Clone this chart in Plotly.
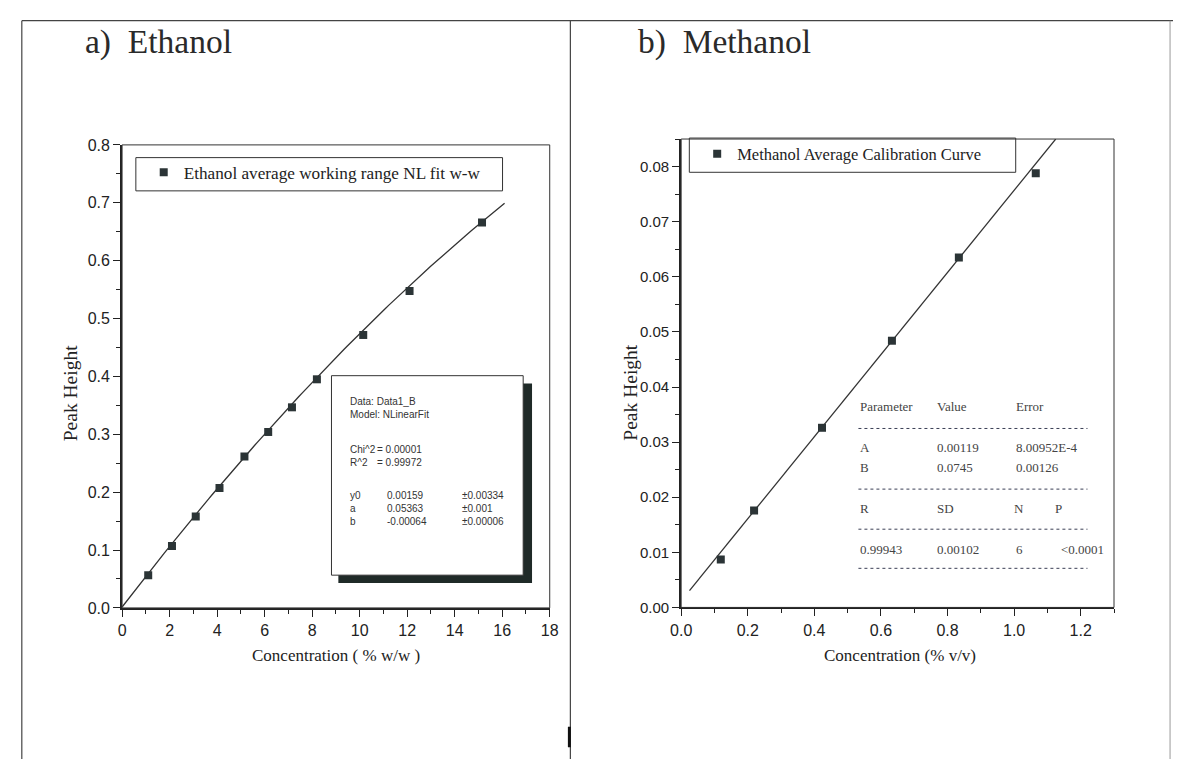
import numpy as np
import plotly.graph_objects as go

# ---- data -------------------------------------------------------------
eth_conc = [1.1, 2.1, 3.1, 4.1, 5.15, 6.15, 7.15, 8.2, 10.15, 12.1, 15.15]
eth_peak = [0.0566, 0.107, 0.158, 0.2074, 0.2615, 0.304, 0.3466, 0.395, 0.4716, 0.5476, 0.666]

meth_conc = [0.119, 0.219, 0.423, 0.633, 0.834, 1.065]
meth_peak = [0.0087, 0.0176, 0.0326, 0.0484, 0.0635, 0.0788]

# fit parameters reported in the result boxes
eth_y0, eth_a, eth_b = 0.00159, 0.05363, -0.00064
meth_A, meth_B = 0.00119, 0.0745

eth_fit_x = np.linspace(0, 16.1, 120)
eth_fit_y = eth_y0 + eth_a * eth_fit_x + eth_b * eth_fit_x ** 2
meth_fit_x = np.array([0.025, (0.085 - meth_A) / meth_B])
meth_fit_y = meth_A + meth_B * meth_fit_x

# ---- page geometry helpers (pixel -> paper) --------------------------
W, H = 1182, 768


def px(x):
    return x / W


def py(y):
    return 1 - y / H


INK = "#222"
MARK = "#2b3436"
SERIF = "Liberation Serif"
SANS = "Liberation Sans"

fig = go.Figure()

fig.add_trace(go.Scatter(x=eth_fit_x, y=eth_fit_y, mode="lines",
                         line=dict(color="#333", width=1.3),
                         showlegend=False, xaxis="x", yaxis="y"))
fig.add_trace(go.Scatter(x=eth_conc, y=eth_peak, mode="markers",
                         marker=dict(symbol="square", size=8, color=MARK),
                         name="Ethanol average working range NL fit w-w",
                         legend="legend", xaxis="x", yaxis="y"))

fig.add_trace(go.Scatter(x=meth_fit_x, y=meth_fit_y, mode="lines",
                         line=dict(color="#333", width=1.3),
                         showlegend=False, xaxis="x2", yaxis="y2"))
fig.add_trace(go.Scatter(x=meth_conc, y=meth_peak, mode="markers",
                         marker=dict(symbol="square", size=8, color=MARK),
                         name="Methanol Average Calibration Curve",
                         legend="legend2", xaxis="x2", yaxis="y2"))


def axis(domain, rng, dtick, minor, fmt, anchor, fsize):
    return dict(domain=domain, range=rng, dtick=dtick, tick0=0, tickformat=fmt,
                ticks="outside", ticklen=7, tickwidth=1.4, tickcolor=INK,
                showline=True, linewidth=2, linecolor=INK,
                showgrid=False, zeroline=False, anchor=anchor,
                tickfont=dict(family=SANS, size=fsize, color=INK), fixedrange=True,
                minor=dict(dtick=minor, tick0=0, ticks="outside", ticklen=4,
                           tickwidth=1.2, tickcolor=INK, showgrid=False))


layout = dict(
    width=W, height=H,
    margin=dict(l=0, r=0, t=0, b=0),
    paper_bgcolor="white", plot_bgcolor="white",
    xaxis=axis([px(113), px(548)], [0, 18], 2, 1, "d", "y", 16),
    yaxis=axis([py(613.5), py(140)], [0, 0.8], 0.1, 0.05, ".1f", "x", 16),
    xaxis2=axis([px(681.7), px(1122)], [0, 1.3], 0.2, 0.1, ".1f", "y2", 16),
    yaxis2=axis([py(613), py(134)], [0, 0.085], 0.01, 0.005, ".2f", "x2", 15),
    legend=dict(x=px(135), y=py(150), xanchor="left", yanchor="top",
                bgcolor="rgba(0,0,0,0)", borderwidth=0,
                font=dict(family=SERIF, size=17.2, color=INK)),
    legend2=dict(x=px(698), y=py(131.5), xanchor="left", yanchor="top",
                 bgcolor="rgba(0,0,0,0)", borderwidth=0,
                 font=dict(family=SERIF, size=16.5, color=INK)),
)
fig.update_layout(**layout)

shapes = []
# thin frame completing each plot box
for xr, yr in (("x domain", "y domain"), ("x2 domain", "y2 domain")):
    shapes.append(dict(type="rect", xref=xr, yref=yr, x0=0, x1=1, y0=0, y1=1,
                       line=dict(color="#333", width=1)))

# panel borders
border = dict(color="#444", width=1.2)
shapes += [
    dict(type="line", xref="paper", yref="paper", x0=px(11), x1=1, y0=py(13), y1=py(13), line=border),
    dict(type="line", xref="paper", yref="paper", x0=px(11), x1=px(11), y0=py(13), y1=0, line=border),
    dict(type="line", xref="paper", yref="paper", x0=px(569), x1=px(569), y0=py(13), y1=0, line=border),
    dict(type="line", xref="paper", yref="paper", x0=px(1179), x1=px(1179), y0=py(13), y1=0,
         line=dict(color="#999", width=1)),
    dict(type="line", xref="paper", yref="paper", x0=px(568), x1=px(568), y0=py(735), y1=py(756),
         line=dict(color="#111", width=3)),
]

# legend boxes
shapes += [
    dict(type="rect", xref="paper", yref="paper", x0=px(127), x1=px(500), y0=py(187), y1=py(153),
         line=dict(color="#333", width=1), fillcolor="rgba(0,0,0,0)"),
    dict(type="rect", xref="paper", yref="paper", x0=px(690), x1=px(1022), y0=py(168), y1=py(133),
         line=dict(color="#333", width=1), fillcolor="rgba(0,0,0,0)"),
]

# ethanol fit-results box with drop shadow
shapes += [
    dict(type="rect", xref="paper", yref="paper", x0=px(333), x1=px(530), y0=py(588), y1=py(384),
         line=dict(width=0), fillcolor="#1f2a28"),
    dict(type="rect", xref="paper", yref="paper", x0=px(326), x1=px(521), y0=py(580), y1=py(376),
         line=dict(color="#333", width=1), fillcolor="white"),
]

# methanol results table rules
for yy in (430, 492, 533, 573):
    shapes.append(dict(type="line", xref="paper", yref="paper", x0=px(862), x1=px(1095),
                       y0=py(yy), y1=py(yy), line=dict(color="#3a3f55", width=1, dash="dot")))

fig.update_layout(shapes=shapes)

ann = []


def text(x, y, s, size, family=SERIF, color=INK, anchor="left", angle=0, valign="middle"):
    ann.append(dict(x=px(x), y=py(y), xref="paper", yref="paper", text=s, showarrow=False,
                    xanchor=anchor, yanchor=valign, textangle=angle, align="left",
                    font=dict(family=family, size=size, color=color)))


# panel headings
text(73, 35, "a)\u00a0\u00a0Ethanol", 33.5, color="#2a2a2a")
text(636, 35, "b)\u00a0\u00a0Methanol", 33.5, color="#2a2a2a")

# axis titles
text(60, 394, "Peak Height", 19.5, anchor="center", angle=-90)
text(630, 393, "Peak Height", 19.5, anchor="center", angle=-90)
text(331, 662, "Concentration ( % w/w )", 17, anchor="center")
text(904, 662, "Concentration (% v/v)", 17, anchor="center")

# ethanol fit results, one block per column
box = dict(size=10, family=SANS, color="#333", valign="top")
text(343, 395, "Data: Data1_B<br>Model: NLinearFit", **box)
text(343, 444, "Chi^2<br>R^2", **box)
text(370, 444, "= 0.00001<br>= 0.99972", **box)
text(343, 491, "y0<br>a<br>b", **box)
text(380, 491, "0.00159<br>0.05363<br>-0.00064", **box)
text(457, 491, "\u00b10.00334<br>\u00b10.001<br>\u00b10.00006", **box)

# methanol linear fit table
tab = dict(size=13, family=SERIF, color="#444")
text(862, 408, "Parameter", **tab)
text(940, 408, "Value", **tab)
text(1020, 408, "Error", **tab)
text(862, 449, "A", **tab)
text(940, 449, "0.00119", **tab)
text(1020, 449, "8.00952E-4", **tab)
text(862, 470, "B", **tab)
text(940, 470, "0.0745", **tab)
text(1020, 470, "0.00126", **tab)
text(862, 512, "R", **tab)
text(940, 512, "SD", **tab)
text(1018, 512, "N", **tab)
text(1060, 512, "P", **tab)
text(862, 554, "0.99943", **tab)
text(940, 554, "0.00102", **tab)
text(1020, 554, "6", **tab)
text(1066, 554, "<0.0001", **tab)

fig.update_layout(annotations=ann)

fig.write_html("out.html")
